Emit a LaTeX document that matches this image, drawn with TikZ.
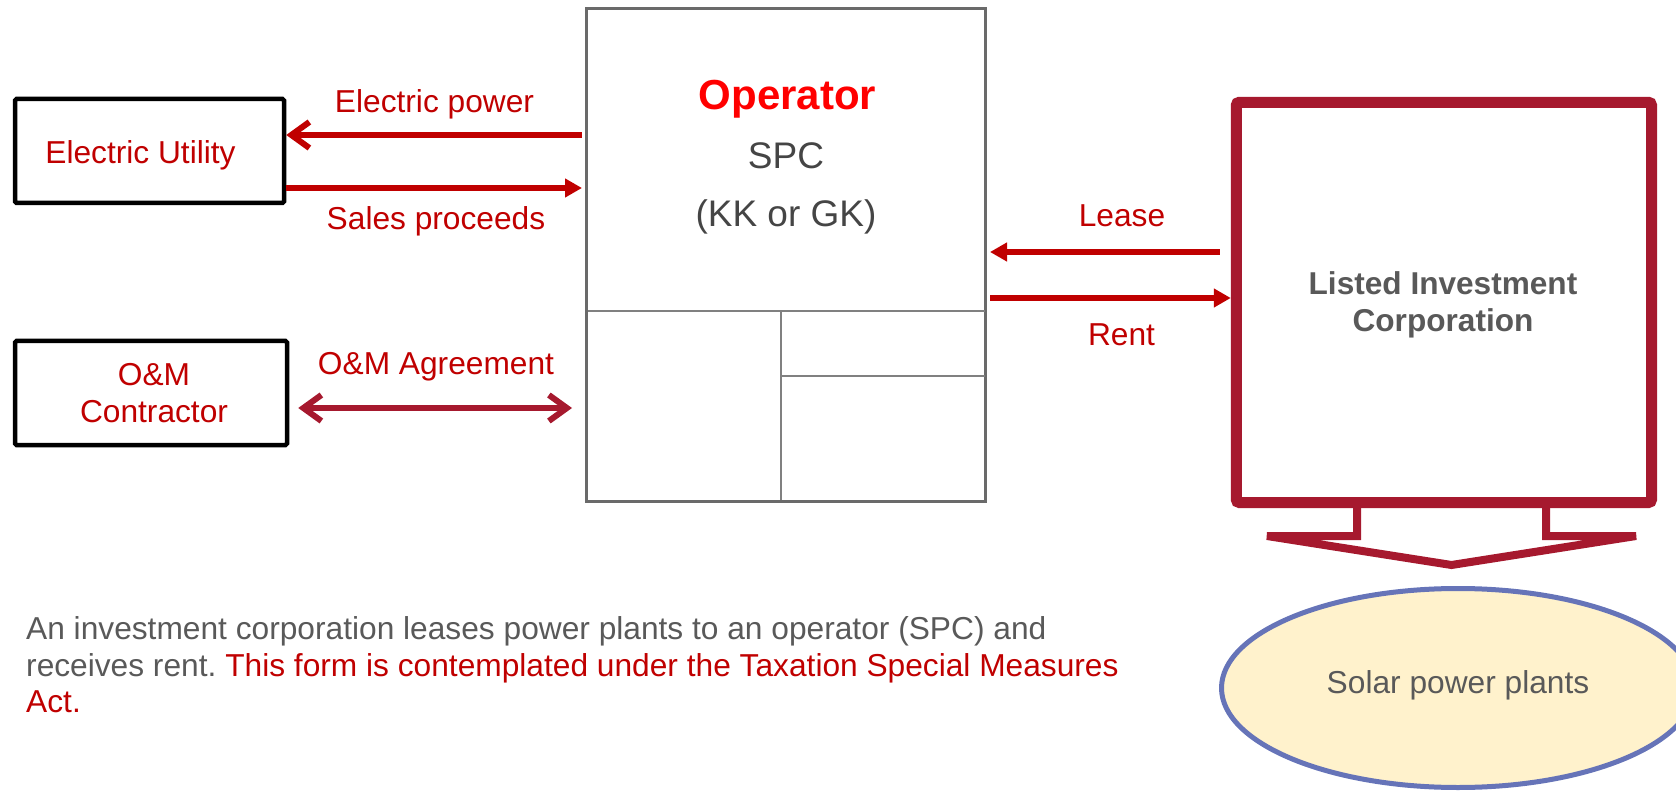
\documentclass[tikz,border=0pt]{standalone}
\usepackage{fontspec}
\setmainfont{Liberation Sans}
\usetikzlibrary{arrows.meta,shapes.geometric}
\definecolor{redtxt}{HTML}{C00000}
\definecolor{opred}{HTML}{FF0000}
\definecolor{boxred}{HTML}{A6192E}
\definecolor{graytxt}{HTML}{595959}
\definecolor{darktxt}{HTML}{454545}
\definecolor{opgray}{HTML}{6A6A6A}
\definecolor{divgray}{HTML}{808080}
\definecolor{solarfill}{HTML}{FFF2CC}
\definecolor{solarline}{HTML}{6674B8}
\frenchspacing
\begin{document}
\begin{tikzpicture}[x=1pt,y=-1pt,
  blkbox/.style={draw=black, line width=4.5pt, rounded corners=1.5pt, inner sep=0pt, fill=white},
  opbox/.style={draw=opgray, line width=3pt, inner sep=0pt},
  licbox/.style={draw=boxred, line width=11pt, rounded corners=3pt, inner sep=0pt},
  solar/.style={ellipse, draw=solarline, fill=solarfill, line width=5pt, inner sep=0pt},
  divln/.style={draw=divgray, line width=2pt},
  blockarr/.style={draw=boxred, line width=8pt},
  flow/.style={draw=redtxt, line width=6pt},
  omflow/.style={draw=boxred, line width=6pt},
  tri/.style={-{Triangle[length=17pt,width=18pt]}},
  barb/.tip={Straight Barb[length=18pt,width=26pt]},
  rtxt/.style={anchor=base, inner sep=0pt, text=redtxt, font=\fontsize{31.7}{38}\selectfont},
  gtxt/.style={anchor=base, inner sep=0pt, text=graytxt, font=\fontsize{31.7}{38}\selectfont},
  ltxt/.style={anchor=base, inner sep=0pt, text=graytxt, font=\fontsize{31.6}{38}\selectfont\bfseries},
  sptxt/.style={anchor=base, inner sep=0pt, text=darktxt, font=\fontsize{37}{44}\selectfont},
  btxt/.style={anchor=base west, inner sep=0pt, text=graytxt, font=\fontsize{31.7}{38}\selectfont}
]
\useasboundingbox (0,0) rectangle (1676,791);

% boxes
\node[blkbox, minimum width=269pt, minimum height=104pt] (eu) at (149.5,151) {};
\node[blkbox, minimum width=272pt, minimum height=104pt] (om) at (151,393) {};
\node[opbox, minimum width=399pt, minimum height=492.4pt] (op) at (786,255) {};
\node[solar, minimum width=473pt, minimum height=199pt] (sol) at (1458,688) {};
\node[licbox, minimum width=415.2pt, minimum height=400.2pt] (lic) at (1443.9,302.4) {};

% operator dividers
\coordinate (dv) at (781,311);
\coordinate (dh) at (781,376);
\draw[divln, shorten <=2.5pt, shorten >=2.5pt] (op.west |- dv) -- (op.east |- dv);
\draw[divln, shorten >=2.5pt] (dv) -- (dv |- op.south);
\draw[divln, shorten >=2.5pt] (dh) -- (op.east |- dh);

% block arrow below the investment corporation
\draw[blockarr] (1357,503) -- (1357,536) -- (1267,536) -- (1451.5,565)
  -- (1636,536) -- (1546,536) -- (1546,503);

% connectors
\coordinate (yEP) at (0,135);
\coordinate (ySP) at (0,188);
\coordinate (yOM) at (0,408);
\coordinate (yLE) at (0,252);
\coordinate (yRE) at (0,298);
\draw[flow, -barb, shorten <=3pt] (op.west |- yEP) -- (eu.east |- yEP);
\draw[flow, tri, shorten >=3pt] (eu.east |- ySP) -- (op.west |- ySP);
\draw[omflow, barb-barb, shorten <=9pt, shorten >=13pt] (om.east |- yOM) -- (op.west |- yOM);
\draw[flow, tri, shorten <=11pt, shorten >=3pt] (lic.west |- yLE) -- (op.east |- yLE);
\draw[flow, tri, shorten <=3pt] (op.east |- yRE) -- (lic.west |- yRE);

% labels
\node[rtxt] (tEU) at (140.5,164) {Electric Utility};
\node[rtxt] (tOM1) at (154,385) {O\&M};
\node[rtxt] (tOM2) at (154,422) {Contractor};
\node[rtxt] (tEP) at (434.5,113) {Electric power};
\node[rtxt] (tSP) at (436,230) {Sales proceeds};
\node[rtxt] (tOMA) at (436,375) {O\&M Agreement};
\node[rtxt] (tLE) at (1122,227) {Lease};
\node[rtxt] (tRE) at (1121.5,346) {Rent};
\node[anchor=base, inner sep=0pt, text=opred, font=\fontsize{42}{50}\selectfont\bfseries] (tOP) at (787.5,110) {Operator};
\node[sptxt] (tSPC) at (786,169) {SPC};
\node[sptxt] (tKK) at (786,227) {(KK or GK)};
\node[ltxt] (tLI1) at (1443,295) {Listed Investment};
\node[ltxt] (tLI2) at (1443,332) {Corporation};
\node[gtxt] (tSOL) at (1458,693) {Solar power plants};

% bottom text
\node[btxt] (b1) at (26,639) {An investment corporation leases power plants to an operator (SPC) and};
\node[btxt] (b2) at (26,676) {receives rent. \textcolor{redtxt}{This form is contemplated under the Taxation Special Measures}};
\node[btxt, text=redtxt] (b3) at (26,712) {Act.};
\end{tikzpicture}
\end{document}
